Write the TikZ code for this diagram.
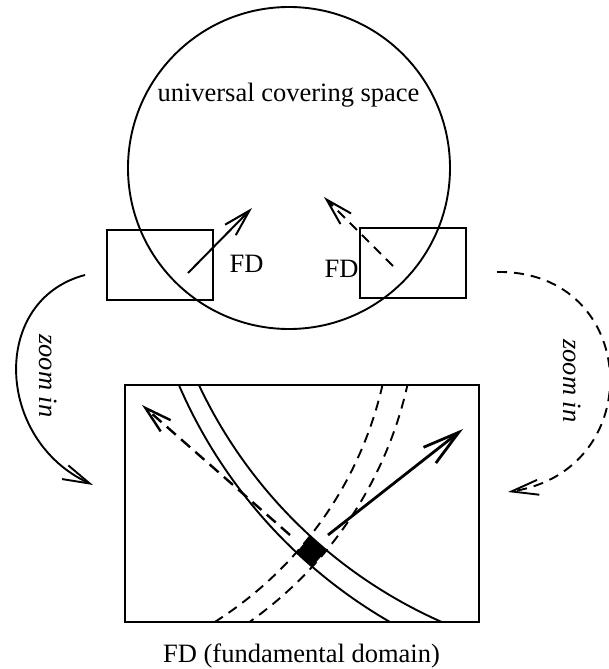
\documentclass[tikz,border=0pt]{standalone}
\usepackage{fontspec}
\setmainfont{Liberation Serif}
\usetikzlibrary{arrows.meta}
\begin{document}
\begin{tikzpicture}[x=1pt,y=-1pt,
  solidline/.style={line width=1.9pt},
  dashline/.style={line width=1.9pt, dash pattern=on 10pt off 7pt},
  barb/.style={-{Straight Barb[length=27pt,width=15pt]}},
  bigbarb/.style={-{Straight Barb[length=37pt,width=20pt]}},
  lbl/.style={font=\fontsize{26.5}{30}\selectfont, inner sep=0pt},
  zlbl/.style={font=\fontsize{26.5}{30}\selectfont\itshape, inner sep=0pt, rotate=-90},
]
\useasboundingbox (0,0) rectangle (608,669);

% universal covering space
\draw[solidline] (289,168) circle (161);
\node[lbl, anchor=base] (ucs) at (288.5,101.7) {universal covering space};

% small fundamental domains
\draw[solidline] (107,230) rectangle (213,300);
\draw[solidline] (360,228) rectangle (466,298);
\coordinate (la0) at (188,273);
\coordinate (la1) at (252,208);
\coordinate (ra0) at (393,266);
\coordinate (ra1) at (324,197);
\draw[line width=2pt, barb] (la0) -- (la1);
\draw[line width=2pt, dash pattern=on 10pt off 7pt, barb] (ra0) -- (ra1);
\node[lbl, anchor=base] (fdl) at (246.5,272.7) {FD};
\node[lbl, anchor=base] (fdr) at (341.5,277.7) {FD};

% zoom in arrows
\coordinate (lz0) at (85,275);
\coordinate (lz1) at (93,485);
\draw[solidline, barb] (lz0) .. controls (-10,300) and (-5,440) .. (lz1);
\node[zlbl] (zl) at (48,376) {zoom in};
\coordinate (rz0) at (497,272);
\coordinate (rz1) at (508,492);
\draw[dashline, barb] (rz0) .. controls (640,270) and (650,470) .. (rz1);
\node[zlbl] (zr) at (572,381) {zoom in};

% zoomed fundamental domain
\fill (296.4,552.4) -- (310.2,536.0) -- (326.5,550.3) -- (312.2,566.7) -- cycle;
\begin{scope}
  \clip (125,385) rectangle (479,622);
  \draw[solidline] (641,186) circle (503);
  \draw[solidline] (637,179) circle (484);
  \draw[dashline] (11,300) circle (381);
  \draw[dashline] (20,298) circle (397);
\end{scope}
\draw[solidline] (125,385) rectangle (479,622);
\coordinate (ba0) at (328,535);
\coordinate (ba1) at (463,429);
\coordinate (bd0) at (290,535);
\coordinate (bd1) at (142,405);
\draw[line width=2.8pt, bigbarb] (ba0) -- (ba1);
\draw[line width=2.4pt, dash pattern=on 12pt off 7pt, barb] (bd0) -- (bd1);
\node[lbl, anchor=base] (fdb) at (301.5,662.5) {FD (fundamental domain)};
\end{tikzpicture}
\end{document}
